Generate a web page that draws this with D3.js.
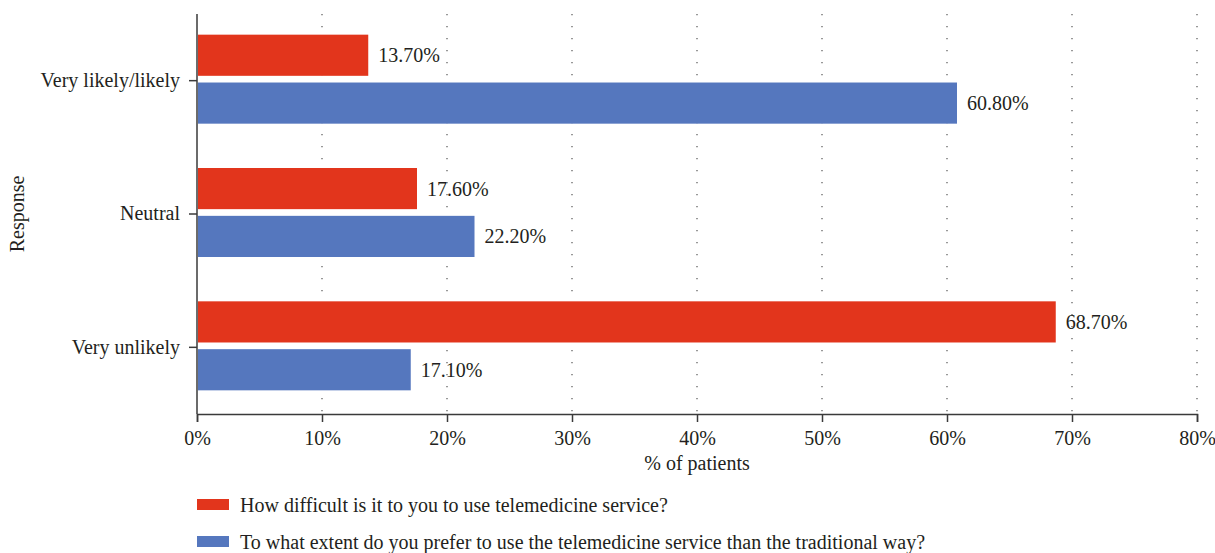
<!DOCTYPE html>
<html>
<head>
<meta charset="utf-8">
<script src="https://cdn.jsdelivr.net/npm/d3@7"></script>
<style>
  body { margin: 0; background: #fff; }
  text { font-family: "Liberation Serif", "DejaVu Serif", serif; fill: #231f20; }
</style>
</head>
<body>
<div id="chart"></div>
<script>
const width = 1215;
const height = 553;
const margin = { top: 14, left: 197, bottom: 140, right: 18 };
const fs = "20px";

const categories = ["Very likely/likely", "Neutral", "Very unlikely"];
const seriesNames = [
  "How difficult is it to you to use telemedicine service?",
  "To what extent do you prefer to use the telemedicine service than the traditional way?"
];
const difficult = [13.7, 17.6, 68.7];
const prefer = [60.8, 22.2, 17.1];
const xTicks = [0, 10, 20, 30, 40, 50, 60, 70, 80];
const colors = ["#e2351c", "#5577be"];

const svg = d3.select("#chart").append("svg")
  .attr("width", width)
  .attr("height", height);

const g = svg.append("g").attr("transform", `translate(${margin.left},${margin.top})`);

const x = d3.scaleLinear().domain([0, 80]).range([0, 1000]);
const y = d3.scaleBand().domain(categories).range([0, 400]).padding(0);
const sub = d3.scaleBand().domain(seriesNames).range([-46, 43]).paddingInner(0.14);

// dotted grid
g.selectAll(".grid").data(xTicks.slice(1)).enter().append("line")
  .attr("class", "grid")
  .attr("x1", d => x(d)).attr("x2", d => x(d))
  .attr("y1", 0).attr("y2", 400)
  .attr("stroke", "#555")
  .attr("stroke-width", 1.2)
  .attr("stroke-dasharray", "1.2,10.8");

const rows = [];
categories.forEach((c, i) => {
  rows.push({ cat: c, s: seriesNames[0], v: difficult[i], col: colors[0] });
  rows.push({ cat: c, s: seriesNames[1], v: prefer[i], col: colors[1] });
});

g.selectAll("rect.bar").data(rows).enter().append("rect")
  .attr("class", "bar")
  .attr("x", x(0) + 1)
  .attr("y", d => y(d.cat) + y.bandwidth() / 2 + sub(d.s))
  .attr("width", d => x(d.v) - 1)
  .attr("height", sub.bandwidth())
  .attr("fill", d => d.col);

g.selectAll("text.val").data(rows).enter().append("text")
  .attr("class", "val")
  .attr("x", d => x(d.v) + 10)
  .attr("y", d => y(d.cat) + y.bandwidth() / 2 + sub(d.s) + sub.bandwidth() / 2)
  .attr("dy", "0.35em")
  .style("font-size", fs)
  .text(d => d.v.toFixed(2) + "%");

// axes
const xAxis = g.append("g")
  .attr("transform", `translate(0,400)`)
  .call(d3.axisBottom(x).tickValues(xTicks).tickFormat(d => d + "%").tickSize(8).tickPadding(9));
xAxis.select(".domain").attr("stroke", "#3a3a3a").attr("stroke-width", 1.5);
xAxis.selectAll(".tick line").attr("stroke", "#3a3a3a").attr("stroke-width", 1.5);
xAxis.selectAll("text").style("font-size", fs).style("font-family", "Liberation Serif").attr("fill", "#231f20");

const yAxis = g.append("g")
  .call(d3.axisLeft(y).tickSize(8).tickPadding(9));
yAxis.select(".domain").attr("d", "M0,0V400").attr("stroke", "#3a3a3a").attr("stroke-width", 1.5);
yAxis.selectAll(".tick line").attr("stroke", "#3a3a3a").attr("stroke-width", 1.5);
yAxis.selectAll("text").style("font-size", fs).style("font-family", "Liberation Serif").attr("fill", "#231f20");

// titles
svg.append("text")
  .attr("x", margin.left + x(40))
  .attr("y", 470)
  .attr("text-anchor", "middle")
  .style("font-size", fs)
  .text("% of patients");

svg.append("text")
  .attr("transform", `translate(24,${margin.top + 200}) rotate(-90)`)
  .attr("text-anchor", "middle")
  .style("font-size", fs)
  .text("Response");

// legend
const legend = svg.append("g").attr("transform", "translate(197,499)");
seriesNames.forEach((s, i) => {
  const row = legend.append("g").attr("transform", `translate(0,${i * 37})`);
  row.append("rect").attr("width", 32).attr("height", 11).attr("fill", colors[i]);
  row.append("text").attr("x", 43).attr("y", 6).attr("dy", "0.33em")
    .style("font-size", fs).text(s);
});
</script>
</body>
</html>
